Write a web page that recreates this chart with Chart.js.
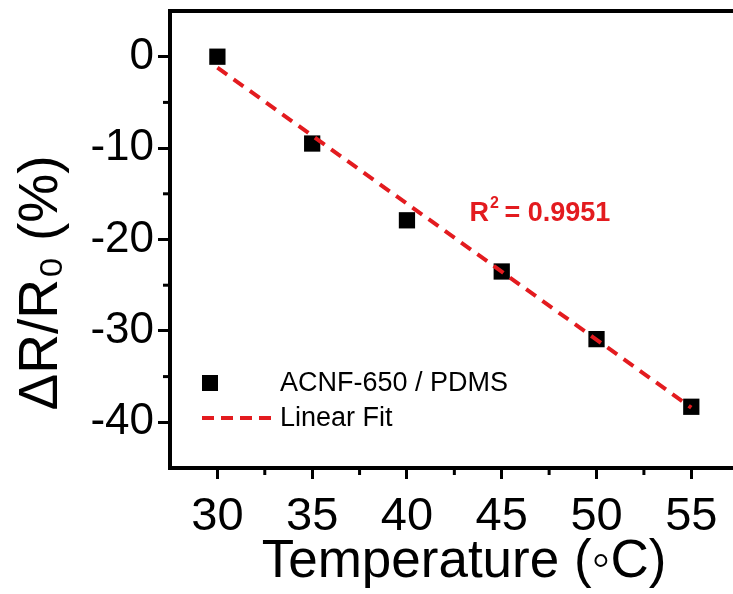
<!DOCTYPE html>
<html>
<head>
<meta charset="utf-8">
<script src="https://cdn.jsdelivr.net/npm/chart.js@4"></script>
<style>
  html, body { margin: 0; padding: 0; background: #fff; }
  #wrap { width: 733px; height: 594px; }
</style>
</head>
<body>
<div id="wrap"><canvas id="myChart" width="733" height="594"></canvas></div>
<script>
const temps = [30, 35, 40, 45, 50, 55];
const dR = [0, -9.5, -17.9, -23.5, -30.9, -38.3];
const fitX = [30, 55];
const fitY = [-1.2, -38.4];
const xTicks = [30, 35, 40, 45, 50, 55];
const yTicks = [0, -10, -20, -30, -40];
const xMinor = [32.5, 37.5, 42.5, 47.5, 52.5];
const yMinor = [-5, -15, -25, -35];
const seriesLabel = "ACNF-650 / PDMS";
const fitLabel = "Linear Fit";
const r2Value = " = 0.9951";

const red = "#e31b1f";
const font = "'Liberation Sans', Arial, sans-serif";

var extras = {
  id: "extras",
  afterDraw(chart) {
    var c = chart.ctx;
    var xs = chart.scales.x, ys = chart.scales.y;
    var area = chart.chartArea;
    c.save();
    c.strokeStyle = "#000";
    c.lineWidth = 3;
    // minor ticks
    xMinor.forEach(function (v) {
      var px = xs.getPixelForValue(v);
      c.beginPath(); c.moveTo(px, area.bottom); c.lineTo(px, area.bottom + 7); c.stroke();
    });
    yMinor.forEach(function (v) {
      var py = ys.getPixelForValue(v);
      c.beginPath(); c.moveTo(area.left, py); c.lineTo(area.left - 7, py); c.stroke();
    });

    // R^2 label
    var rx = xs.getPixelForValue(43.3), ry = ys.getPixelForValue(-16.9);
    c.fillStyle = red;
    c.textBaseline = "alphabetic";
    c.textAlign = "left";
    c.font = "bold 27px " + font;
    c.fillText("R", rx, ry + 10);
    var w = c.measureText("R").width;
    c.font = "bold 16px " + font;
    c.fillText("2", rx + w + 1, ry - 3);
    c.font = "bold 27px " + font;
    c.fillText(r2Value, rx + w + 8, ry + 10);

    // legend
    c.textBaseline = "middle";
    c.fillStyle = "#000";
    c.fillRect(202, 375, 16, 16);
    c.font = "27px " + font;
    c.fillText(seriesLabel, 280, 384);
    c.strokeStyle = red;
    c.lineWidth = 4;
    c.setLineDash([12, 7]);
    c.beginPath(); c.moveTo(202, 418); c.lineTo(272, 418); c.stroke();
    c.setLineDash([]);
    c.fillStyle = "#000";
    c.fillText(fitLabel, 280, 419);

    // axis titles
    c.font = "53px " + font;
    c.textAlign = "center";
    c.fillText("Temperature (\u25E6C)", 464, 562);
    c.translate(42, 283);
    c.rotate(-Math.PI / 2);
    c.font = "55px " + font;
    c.fillText("\u0394R/R\u2080 (%)", 0, 0);
    c.restore();
  }
};

var ctx = document.getElementById("myChart");
var myChart = new Chart(ctx, {
  type: "scatter",
  data: {
    datasets: [
      {
        label: fitLabel,
        type: "line",
        data: fitX.map((x, i) => ({ x: x, y: fitY[i] })),
        borderColor: red,
        borderWidth: 4,
        borderDash: [12, 8],
        pointRadius: 0,
        fill: false,
        order: 0,
      },
      {
        label: seriesLabel,
        data: temps.map((t, i) => ({ x: t, y: dR[i] })),
        pointStyle: "rect",
        pointRadius: 11.5,
        backgroundColor: "#000",
        borderColor: "#000",
        borderWidth: 0,
        order: 1,
      },
    ],
  },
  options: {
    responsive: false,
    animation: false,
    layout: { padding: 0, autoPadding: false },
    plugins: { legend: { display: false }, tooltip: { enabled: false } },
    scales: {
      x: {
        type: "linear",
        min: 27.5,
        max: 57.2,
        afterBuildTicks: (s) => { s.ticks = xTicks.map(v => ({ value: v })); },
        afterFit: (s) => { s.height = 126; s.paddingLeft = 0; s.paddingRight = 0; },
        ticks: { color: "#000", font: { family: font, size: 47 }, padding: 10, maxRotation: 0 },
        grid: { drawOnChartArea: false, drawTicks: true, tickLength: 11, tickWidth: 3, color: "#000" },
        border: { display: true, color: "#000", width: 4 },
      },
      x2: {
        type: "linear",
        position: "top",
        min: 27.5,
        max: 57.2,
        afterFit: (s) => { s.height = 11; s.paddingLeft = 0; s.paddingRight = 0; },
        ticks: { display: false },
        grid: { drawOnChartArea: false, drawTicks: false },
        border: { display: true, color: "#000", width: 4 },
      },
      y: {
        min: -45,
        max: 5,
        afterBuildTicks: (s) => { s.ticks = yTicks.map(v => ({ value: v })); },
        afterFit: (s) => { s.width = 170; s.paddingTop = 0; s.paddingBottom = 0; },
        ticks: { color: "#000", font: { family: font, size: 44 }, padding: 4 },
        grid: { drawOnChartArea: false, drawTicks: true, tickLength: 12, tickWidth: 3, color: "#000" },
        border: { display: true, color: "#000", width: 4 },
      },
    },
  },
  plugins: [extras],
});
</script>
</body>
</html>
